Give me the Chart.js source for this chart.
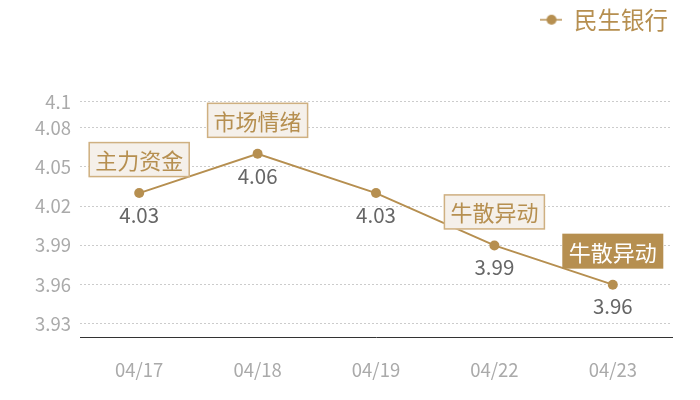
<!DOCTYPE html>
<html>
<head>
<meta charset="utf-8">
<script src="https://cdn.jsdelivr.net/npm/chart.js@4"></script>
<style>
html,body{margin:0;padding:0;background:#fff;}
#wrap{width:700px;height:400px;}
</style>
</head>
<body>
<div id="wrap"><canvas id="c" width="700" height="400"></canvas></div>
<script>
const categories = ['04/17','04/18','04/19','04/22','04/23'];
const seriesName = '民生银行';
const values = [4.03, 4.06, 4.03, 3.99, 3.96];
const yTicks = [3.93, 3.96, 3.99, 4.02, 4.05, 4.08, 4.1];
const yMin = 3.92, yMax = 4.1;
const noteTexts = ['主力资金','市场情绪',null,'牛散异动','牛散异动'];
const noteHighlight = [false,false,false,false,true];

const TAN = '#b68f50';
const FONT = '"Noto Sans CJK SC", "Noto Sans", sans-serif';

// legend marker: line with dot
const marker = document.createElement('canvas');
marker.width = 22; marker.height = 12;
(function(){
  const g = marker.getContext('2d');
  g.strokeStyle = TAN; g.lineWidth = 1.5;
  g.beginPath(); g.moveTo(0,6); g.lineTo(22,6); g.stroke();
  g.fillStyle = TAN; g.beginPath(); g.arc(12,6,5,0,Math.PI*2); g.fill();
})();

const legendSpace = {
  id: 'legendSpace',
  beforeInit(chart) {
    const lg = chart.legend;
    if (!lg) return;
    const orig = lg.fit;
    lg.fit = function() { orig.call(this); this.height += 60; };
  }
};

const labelPlugin = {
  id: 'labelsAndNotes',
  afterDatasetsDraw(chart) {
    const ctx = chart.ctx;
    const meta = chart.getDatasetMeta(0);
    ctx.save();
    meta.data.forEach((pt, i) => {
      ctx.font = '20.5px ' + FONT;
      ctx.fillStyle = '#666';
      ctx.textAlign = 'center';
      ctx.textBaseline = 'middle';
      ctx.fillText(String(values[i]), pt.x, pt.y + 22);
      const t = noteTexts[i];
      if (t) {
        ctx.font = '22px ' + FONT;
        const w = ctx.measureText(t).width + 13;
        const h = 35;
        const x0 = pt.x - w/2, y1 = pt.y - 16, y0 = y1 - h;
        if (noteHighlight[i]) {
          ctx.fillStyle = TAN;
          ctx.fillRect(x0, y0, w, h);
          ctx.fillStyle = '#ffffff';
        } else {
          ctx.fillStyle = '#f5f0ea';
          ctx.fillRect(x0, y0, w, h);
          ctx.strokeStyle = '#cfb081';
          ctx.lineWidth = 1.5;
          ctx.strokeRect(x0+0.5, y0+0.5, w-1, h-1);
          ctx.fillStyle = TAN;
        }
        ctx.fillText(t, pt.x, y0 + h/2 + 1);
      }
    });
    ctx.restore();
  }
};

new Chart(document.getElementById('c'), {
  type: 'line',
  data: {
    labels: categories,
    datasets: [{
      label: seriesName,
      data: values,
      borderColor: TAN,
      backgroundColor: TAN,
      borderWidth: 2,
      pointRadius: 5,
      pointHoverRadius: 5,
      pointBackgroundColor: TAN,
      pointBorderWidth: 0,
      tension: 0,
      pointStyle: 'circle'
    }]
  },
  options: {
    responsive: false,
    animation: false,
    devicePixelRatio: 1,
    layout: { padding: { left: 0, right: 28, top: 4, bottom: 0 } },
    plugins: {
      tooltip: { enabled: false },
      legend: {
        position: 'top',
        align: 'end',
        labels: {
          usePointStyle: true,
          color: TAN,
          font: { size: 23.5, family: FONT },
          padding: 4,
          generateLabels(chart) {
            return [{
              text: seriesName,
              fontColor: TAN,
              pointStyle: marker,
              datasetIndex: 0,
              hidden: false,
              lineWidth: 0
            }];
          }
        }
      }
    },
    scales: {
      x: {
        offset: true,
        grid: { display: false, drawTicks: false },
        border: { display: true, color: '#333', width: 1 },
        ticks: { color: '#aaa', font: { size: 18.5, family: FONT }, padding: 22 },
        afterFit(s) { s.height = 63; }
      },
      y: {
        min: yMin, max: yMax,
        afterBuildTicks(s) { s.ticks = yTicks.map(v => ({ value: v })); },
        afterFit(s) { s.width = 80; },
        grid: { color: '#cccccc', drawTicks: false, lineWidth: 1 },
        border: { display: false, dash: [2,2] },
        ticks: {
          color: '#aaa',
          font: { size: 18.5, family: FONT },
          padding: 9,
          callback: (v) => String(v)
        }
      }
    }
  },
  plugins: [legendSpace, labelPlugin]
});
</script>
</body>
</html>
